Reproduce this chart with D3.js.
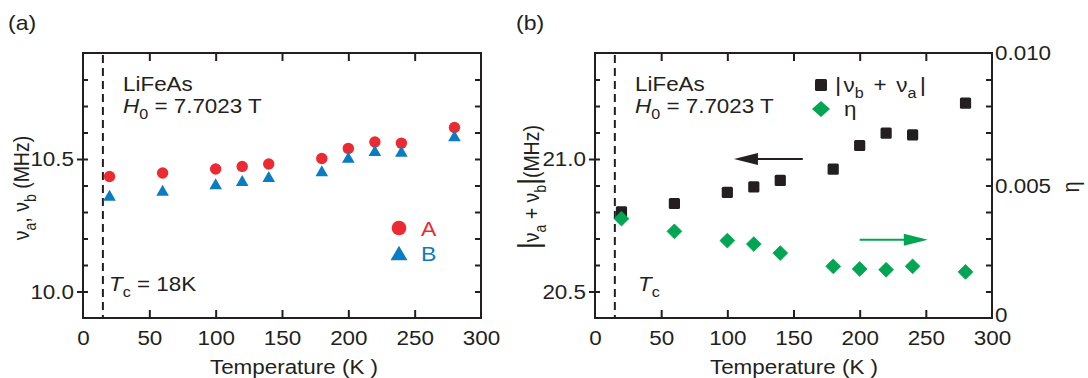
<!DOCTYPE html>
<html>
<head>
<meta charset="utf-8">
<script src="https://cdn.jsdelivr.net/npm/d3@7/dist/d3.min.js"></script>
<style>
  html, body { margin: 0; padding: 0; background: #fff; }
  svg { display: block; font-family: "Liberation Sans", Arial, Helvetica, sans-serif; }
</style>
</head>
<body>
<svg id="fig" width="1088" height="378"></svg>
<script>
// Temperature points (K)
const temps = [20, 60, 100, 120, 140, 180, 200, 220, 240, 280];
// NQR/NMR satellite frequencies (MHz)
const nuA = [10.434, 10.447, 10.462, 10.472, 10.481, 10.502, 10.540, 10.564, 10.560, 10.619];
const nuB = [10.363, 10.382, 10.407, 10.419, 10.434, 10.456, 10.507, 10.532, 10.529, 10.588];
// |nu_b + nu_a| (MHz) and asymmetry parameter eta
const nuSum = [20.801, 20.832, 20.874, 20.895, 20.919, 20.962, 21.051, 21.098, 21.091, 21.211];
const eta = [0.00375, 0.00327, 0.00292, 0.00279, 0.00245, 0.00195, 0.00185, 0.00182, 0.00195, 0.00174];
// Superconducting transition marker (K)
const tcMark = [15];
// Tick values
const xTicks = [0, 50, 100, 150, 200, 250, 300];
const xTicksInner = [50, 100, 150, 200, 250];
const yMajorA = [10.0, 10.5];
const yMinorA = [10.1, 10.2, 10.3, 10.4, 10.6, 10.7, 10.8];
const yRightA = [10.0, 10.1, 10.2, 10.3, 10.4, 10.5, 10.6, 10.7, 10.8];
const yMajorB = [20.5, 21.0];
const yMinorB = [20.6, 20.7, 20.8, 20.9, 21.1, 21.2, 21.3];
const etaMajor = [0, 0.005, 0.010];
const etaMinor = [0.001, 0.002, 0.003, 0.004, 0.006, 0.007, 0.008, 0.009];

const INK = "#231f20", RED = "#ec2a31", BLUE = "#0a7cc2", GREEN = "#00a651";
const SX = 1.15;      // horizontal glyph stretch
const FS = 19.5;      // base font size

const svg = d3.select("#fig");
svg.append("rect").attr("width", 1088).attr("height", 378).attr("fill", "#fff");

// rich text: parts = [{t, it, sub, size, dx}]
function richText(parent, x, y, parts, opt = {}) {
  const size = opt.size || FS;
  const tr = opt.rotate
    ? `translate(${x},${y}) rotate(${opt.rotate}) scale(1,${SX})`
    : `translate(${x},${y}) scale(${SX},1)`;
  const t = parent.append("text")
    .attr("transform", tr)
    .attr("text-anchor", opt.anchor || "start")
    .attr("font-size", size)
    .attr("fill", opt.fill || INK);
  let shift = 0;
  parts.forEach(p => {
    const s = t.append("tspan").text(p.t);
    const want = p.sub ? size * 0.3 : (p.dy || 0);
    if (want !== shift) { s.attr("dy", want - shift); shift = want; }
    if (p.sub) s.attr("font-size", size * 0.72);
    if (p.size) s.attr("font-size", p.size);
    if (p.dx) s.attr("dx", p.dx);
    if (p.it) s.attr("font-style", "italic");
  });
  return t;
}

function styleAxis(g) {
  g.select(".domain").remove();
  g.selectAll("line").attr("stroke", INK).attr("stroke-width", 2);
  g.selectAll("text").attr("fill", INK).attr("font-size", FS).attr("font-family", null);
}

function frame(g, x, y) {
  const [x0, x1] = x.range(), [y1, y0] = y.range();
  g.append("rect").attr("x", x0).attr("y", y0).attr("width", x1 - x0).attr("height", y1 - y0)
    .attr("fill", "none").attr("stroke", INK).attr("stroke-width", 2);
}

function xAxes(g, x, y) {
  const [y1, y0] = y.range();
  const bottom = g.append("g").attr("transform", `translate(0,${y1})`)
    .call(d3.axisBottom(x).tickValues(xTicks).tickSizeInner(-8).tickSizeOuter(0).tickPadding(13));
  styleAxis(bottom);
  bottom.selectAll(".tick line").filter(d => !xTicksInner.includes(d)).remove();
  bottom.selectAll("text").attr("transform", `scale(${SX},1)`);
  const top = g.append("g").attr("transform", `translate(0,${y0})`)
    .call(d3.axisTop(x).tickValues(xTicksInner).tickSizeInner(-8).tickSizeOuter(0).tickFormat(""));
  styleAxis(top);
}

function leftAxes(g, x, y, major, minor, fmt) {
  const x0 = x.range()[0];
  const maj = g.append("g").attr("transform", `translate(${x0},0)`)
    .call(d3.axisLeft(y).tickValues(major).tickSizeInner(6).tickSizeOuter(0).tickFormat(fmt));
  styleAxis(maj);
  maj.selectAll(".tick line").attr("x1", 5);
  maj.selectAll(".tick text").attr("x", null).attr("dy", "0.34em")
    .attr("transform", `translate(-9,0) scale(${SX},1)`);
  const mn = g.append("g").attr("transform", `translate(${x0},0)`)
    .call(d3.axisLeft(y).tickValues(minor).tickSizeInner(-5).tickSizeOuter(0).tickFormat(""));
  styleAxis(mn);
}

function dashed(g, x, y) {
  const [y1, y0] = y.range();
  g.selectAll(null).data(tcMark).enter().append("line")
    .attr("x1", d => x(d)).attr("x2", d => x(d))
    .attr("y1", y0 + 2).attr("y2", y1)
    .attr("stroke", INK).attr("stroke-width", 2).attr("stroke-dasharray", "8,5");
}

// triangle centred on its bounding box
function triPath(w, h) { return `M0,${-h / 2}L${w / 2},${h / 2}L${-w / 2},${h / 2}Z`; }
function diamondPath(a, b) { return `M0,${-b}L${a},0L0,${b}L${-a},0Z`; }

// ---------------- Panel (a) ----------------
const xa = d3.scaleLinear().domain([0, 300]).range([83, 481]);
const ya = d3.scaleLinear().domain([9.9, 10.9]).range([318, 53]);
const ga = svg.append("g");

dashed(ga, xa, ya);
xAxes(ga, xa, ya);
leftAxes(ga, xa, ya, yMajorA, yMinorA, d3.format(".1f"));
const ra = ga.append("g").attr("transform", `translate(${xa.range()[1]},0)`)
  .call(d3.axisRight(ya).tickValues(yRightA).tickSizeInner(-6).tickSizeOuter(0).tickFormat(""));
styleAxis(ra);
frame(ga, xa, ya);

const ptsA = temps.map((t, i) => ({ t, a: nuA[i], b: nuB[i] }));
ga.selectAll(".ptA").data(ptsA).enter().append("circle")
  .attr("cx", d => xa(d.t)).attr("cy", d => ya(d.a)).attr("r", 5.7).attr("fill", RED);
ga.selectAll(".ptB").data(ptsA).enter().append("path")
  .attr("d", triPath(12.6, 11)).attr("fill", BLUE)
  .attr("transform", d => `translate(${xa(d.t)},${ya(d.b)})`);

richText(svg, 8, 30, [{ t: "(a)" }], { size: 20 });
richText(svg, 123, 91, [{ t: "LiFeAs" }]);
richText(svg, 123, 113, [{ t: "H", it: true }, { t: "0", sub: true }, { t: " = 7.7023 T" }]);
richText(svg, 109, 291, [{ t: "T", it: true }, { t: "c", sub: true }, { t: " = 18K" }]);

// legend (a)
ga.append("circle").attr("cx", 399).attr("cy", 228).attr("r", 7.3).attr("fill", RED);
ga.append("path").attr("d", triPath(17, 14.5)).attr("fill", BLUE).attr("transform", "translate(399,253)");
richText(svg, 421, 236, [{ t: "A" }], { fill: RED, size: 20 });
richText(svg, 421, 261, [{ t: "B" }], { fill: BLUE, size: 20 });

// axis titles (a)
richText(svg, 29, 188, [{ t: "ν" }, { t: "a", sub: true }, { t: ",  ν" }, { t: "b", sub: true }, { t: " (MHz)" }], { rotate: -90, anchor: "middle" });
richText(svg, 294, 374, [{ t: "Temperature (K )" }], { anchor: "middle" });

// ---------------- Panel (b) ----------------
const xb = d3.scaleLinear().domain([0, 300]).range([595, 992]);
const yb = d3.scaleLinear().domain([20.4, 21.4]).range([318, 53]);
const ye = d3.scaleLinear().domain([0, 0.010]).range([318, 53]);
const gb = svg.append("g");

dashed(gb, xb, yb);
xAxes(gb, xb, yb);
leftAxes(gb, xb, yb, yMajorB, yMinorB, d3.format(".1f"));
const rbMaj = gb.append("g").attr("transform", `translate(${xb.range()[1]},0)`)
  .call(d3.axisRight(ye).tickValues(etaMajor).tickSizeInner(-6).tickSizeOuter(0)
    .tickFormat(d => d === 0 ? "0" : d3.format(".3f")(d)));
styleAxis(rbMaj);
rbMaj.selectAll(".tick line").filter(d => d === 0 || d === 0.010).remove();
rbMaj.selectAll(".tick text").attr("x", null).attr("dy", "0.34em")
  .attr("transform", `translate(3,0) scale(${SX},1)`);
rbMaj.selectAll(".tick text").filter(d => d === 0).attr("dy", "0.18em");
const rbMin = gb.append("g").attr("transform", `translate(${xb.range()[1]},0)`)
  .call(d3.axisRight(ye).tickValues(etaMinor).tickSizeInner(-6).tickSizeOuter(0).tickFormat(""));
styleAxis(rbMin);
frame(gb, xb, yb);

const ptsB = temps.map((t, i) => ({ t, s: nuSum[i], e: eta[i] }));
gb.selectAll(".sq").data(ptsB).enter().append("rect")
  .attr("x", d => xb(d.t) - 5.6).attr("y", d => yb(d.s) - 5.6)
  .attr("width", 11.2).attr("height", 11.2).attr("rx", 1.5).attr("fill", INK);
gb.selectAll(".dm").data(ptsB).enter().append("path")
  .attr("d", diamondPath(7.4, 7.4)).attr("fill", GREEN).attr("stroke", GREEN)
  .attr("stroke-width", 0.8).attr("stroke-linejoin", "round")
  .attr("transform", d => `translate(${xb(d.t)},${ye(d.e)})`);

// direction arrows: black -> left axis, green -> right axis
function arrow(g, xFrom, xTo, yv, color) {
  const dir = Math.sign(xTo - xFrom);
  const head = 24;
  g.append("line").attr("x1", xFrom).attr("x2", xTo - dir * head + dir * 2).attr("y1", yv).attr("y2", yv)
    .attr("stroke", color).attr("stroke-width", 2);
  g.append("path")
    .attr("d", `M${xTo},${yv}L${xTo - dir * head},${yv - 6}L${xTo - dir * head},${yv + 6}Z`)
    .attr("fill", color);
}
arrow(gb, xb(157), xb(105), yb(21.0), INK);
arrow(gb, xb(200), xb(251.5), ye(0.00295), GREEN);

richText(svg, 516, 30, [{ t: "(b)" }], { size: 20 });
richText(svg, 635, 91, [{ t: "LiFeAs" }]);
richText(svg, 635, 113, [{ t: "H", it: true }, { t: "0", sub: true }, { t: " = 7.7023 T" }]);
richText(svg, 638, 291, [{ t: "T", it: true }, { t: "c", sub: true }]);

// legend (b)
gb.append("rect").attr("x", 815).attr("y", 79).attr("width", 12).attr("height", 12).attr("rx", 1.5).attr("fill", INK);
gb.append("path").attr("d", diamondPath(9, 8)).attr("fill", GREEN).attr("transform", "translate(821,109)");
richText(svg, 835, 92, [{ t: "|", size: 21 }, { t: "ν", dx: 2 }, { t: "b", sub: true }, { t: " + ", dx: 3 }, { t: "ν", dx: 3 }, { t: "a", sub: true }, { t: "|", size: 21, dx: 3 }]);
richText(svg, 844, 116, [{ t: "η" }]);

// axis titles (b)
richText(svg, 539, 187, [{ t: "|", size: 26 }, { t: "ν" }, { t: "a", sub: true }, { t: " + ν" }, { t: "b", sub: true }, { t: "|", size: 26 }, { t: "(MHz)" }], { rotate: -90, anchor: "middle" });
richText(svg, 794, 374, [{ t: "Temperature (K )" }], { anchor: "middle" });
richText(svg, 1079, 187, [{ t: "η" }], { rotate: -90, anchor: "middle", size: 20 });
</script>
</body>
</html>
